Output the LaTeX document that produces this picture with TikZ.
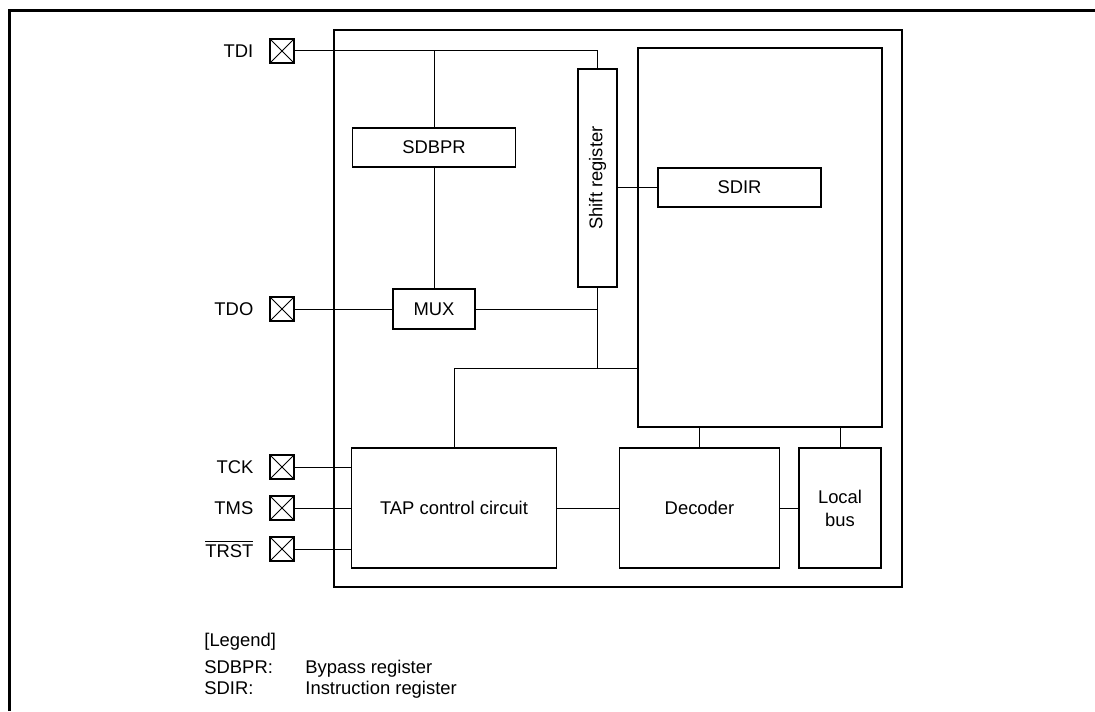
\documentclass[tikz,border=0pt]{standalone}
\usepackage{fontspec}
\setmainfont{Liberation Sans}
\usetikzlibrary{positioning}

\tikzset{
  blk/.style={draw, line width=0.9pt, inner sep=0pt, align=center},
  pinbox/.style={draw, line width=0.6pt, minimum size=12pt, inner sep=0pt,
    path picture={\draw[line width=0.5pt]
      (path picture bounding box.south west) -- (path picture bounding box.north east)
      (path picture bounding box.north west) -- (path picture bounding box.south east);}},
  wire/.style={line width=0.5pt},
  legtext/.style={anchor=base west, inner sep=0pt}
}

\begin{document}
\begin{tikzpicture}[x=0.5pt,y=-0.5pt,font=\fontsize{9.2}{11}\selectfont]
        \useasboundingbox (0,0) rectangle (1095,711);
        % Page frame
        \draw[line width=1.5pt] (9,711) -- (9,11) -- (1095,11);
        % Chip outline
        \draw[line width=1pt] (334,30) rectangle (902,587);

        % Registers
        \node[blk, minimum width=19.5pt, minimum height=109pt] (sft) at (597.5,178) {\rotatebox{90}{Shift register}};
        \node[blk, minimum width=81.5pt, minimum height=19.5pt] (bpr) at (434,147.5) {SDBPR};
        \node[blk, minimum width=41pt, minimum height=20pt] (mux) at (434,309) {MUX};
        \node[blk, minimum width=122pt, minimum height=189.5pt] (core) at (760,237.5) {};
        \node[blk, minimum width=81.5pt, minimum height=19.5pt] (dir) at (739.5,187.5) {SDIR};

        % Control blocks
        \node[blk, minimum width=102.5pt, minimum height=60pt] (tap) at (454,508) {TAP control circuit};
        \node[blk, minimum width=80pt, minimum height=60pt] (dec) at (699.5,508) {Decoder};
        \node[blk, minimum width=41pt, minimum height=60pt, font=\fontsize{9.2}{11.5}\selectfont] (lbus) at (840,508) {Local\\bus};

        % Pins
        \node[pinbox] (tdi) at (282,51) {};
        \node[pinbox] (tdo) at (282,309) {};
        \node[pinbox] (tck) at (282,467) {};
        \node[pinbox] (tms) at (282,508) {};
        \node[pinbox] (trst) at (282,549) {};
        \node[left=4.5pt of tdi] (tdilbl) {TDI};
        \node[left=4.5pt of tdo] (tdolbl) {TDO};
        \node[left=4.5pt of tck] (tcklbl) {TCK};
        \node[left=4.5pt of tms] (tmslbl) {TMS};
        \node[left=4.5pt of trst] (trstlbl) {$\overline{\mbox{TRST}}$};

        % Data path
        \draw[wire] (tdi.east) -- (tdi.east -| sft.north) -- (sft.north);
        \draw[wire] (bpr.north) -- (bpr.north |- tdi.east);
        \draw[wire] (bpr.south) -- (mux.north);
        \draw[wire] (tdo.east) -- (mux.west);
        \coordinate (jn) at (597.5,368);
        \draw[wire] (mux.east) -- (mux.east -| jn);
        \draw[wire] (sft.south) -- (jn);
        \draw[wire] (tap.north) |- (jn -| core.west);
        \draw[wire] (sft.east |- dir.west) -- (dir.west);

        % Control path
        \draw[wire] (dec.north) -- (dec.north |- core.south);
        \draw[wire] (lbus.north) -- (lbus.north |- core.south);
        \draw[wire] (tap.east) -- (dec.west);
        \draw[wire] (dec.east) -- (lbus.west);
        \draw[wire] (tck.east) -- (tck.east -| tap.west);
        \draw[wire] (tms.east) -- (tap.west);
        \draw[wire] (trst.east) -- (trst.east -| tap.west);

        % Legend
        \node[legtext] (leg) at (204,646) {[Legend]};
        \node[legtext] (legbpr) at (204,673) {SDBPR:};
        \node[legtext] (legbprtxt) at (305,673) {Bypass register};
        \node[legtext] (legdir) at (204,694) {SDIR:};
        \node[legtext] (legdirtxt) at (305,694) {Instruction register};
\end{tikzpicture}
\end{document}
